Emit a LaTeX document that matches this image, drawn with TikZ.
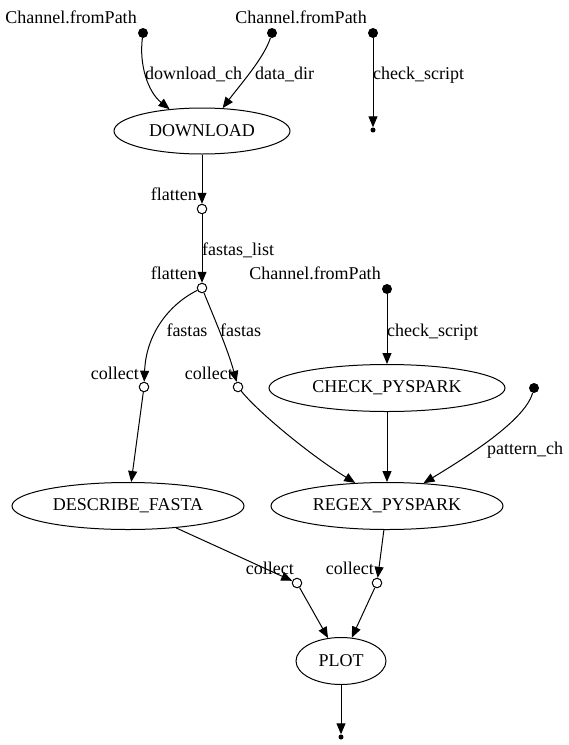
\documentclass[tikz,border=0pt]{standalone}
\usepackage{fontspec}
\setmainfont{Liberation Serif}
\usetikzlibrary{arrows.meta,shapes.geometric}
\begin{document}
\begin{tikzpicture}[x=1pt,y=1pt,
  every node/.style={font=\fontsize{18}{20}\selectfont},
  proc/.style={ellipse,draw,line width=1pt,inner sep=0pt,minimum height=47pt},
  src/.style={circle,fill=black,inner sep=0pt,minimum size=10pt},
  sink/.style={circle,fill=black,inner sep=0pt,minimum size=5pt},
  op/.style={circle,draw,fill=white,line width=1pt,inner sep=0pt,minimum size=9.5pt},
  lbl/.style={inner sep=0pt,text height=12pt,text depth=4pt},
  flow/.style={line width=1pt,-{Triangle[length=11pt,width=9pt]}}
]
\useasboundingbox (0,0) rectangle (569,-745);

% sources and sinks
\node[src] (s1) at (143,-33) {};
\node[src] (s2) at (272,-33) {};
\node[src] (s3) at (373,-33) {};
\node[sink] (e1) at (373,-130) {};
\node[src] (s4) at (387,-289) {};
\node[src] (s5) at (534,-388) {};
\node[sink] (e2) at (341,-737) {};

% processes
\node[proc,minimum width=176pt,minimum height=46pt] (dl) at (202,-131) {DOWNLOAD};
\node[proc,minimum width=236pt] (chk) at (387,-388) {CHECK\_PYSPARK};
\node[proc,minimum width=232pt] (desc) at (128,-506) {DESCRIBE\_FASTA};
\node[proc,minimum width=232pt] (rgx) at (387,-506) {REGEX\_PYSPARK};
\node[proc,minimum width=90pt] (plot) at (341,-661) {PLOT};

% operators
\node[op] (f1) at (202,-209) {};
\node[op] (f2) at (202,-288) {};
\node[op] (c1) at (144,-387) {};
\node[op] (c2) at (238,-387) {};
\node[op] (c3) at (297,-583) {};
\node[op] (c4) at (377,-583) {};

% edges
\draw[flow] (s1) .. controls (139,-65) and (148,-92) .. (dl.146);
\draw[flow] (s2) .. controls (264,-58) and (240,-85) .. (dl.48);
\draw[flow] (s3) -- (e1);
\draw[flow] (dl) -- (f1);
\draw[flow] (f1) -- (f2);
\draw[flow] (f2) .. controls (168,-305) and (146,-335) .. (c1);
\draw[flow] (f2) .. controls (215,-320) and (228,-350) .. (c2);
\draw[flow] (s4) -- (chk);
\draw[flow] (c1) -- (desc);
\draw[flow] (c2) .. controls (258,-412) and (310,-455) .. (rgx.144);
\draw[flow] (chk) -- (rgx);
\draw[flow] (s5) .. controls (525,-420) and (470,-455) .. (rgx.32);
\draw[flow] (desc) -- (c3);
\draw[flow] (rgx) -- (c4);
\draw[flow] (c3) -- (plot);
\draw[flow] (c4) -- (plot);
\draw[flow] (plot) -- (e2);

% labels
\node[lbl] (ls1) at (71,-19) {Channel.fromPath};
\node[lbl] (ls2) at (301,-19) {Channel.fromPath};
\node[lbl] (ls4) at (315,-275) {Channel.fromPath};
\node[lbl,anchor=west] (le1) at (145,-75) {download\_ch};
\node[lbl,anchor=west] (le2) at (255,-75) {data\_dir};
\node[lbl,anchor=west] (le3) at (373,-75) {check\_script};
\node[lbl,anchor=east] (lf1) at (197,-196) {flatten};
\node[lbl,anchor=east] (lf2) at (197,-275) {flatten};
\node[lbl,anchor=west] (le4) at (202,-251) {fastas\_list};
\node[lbl] (le5) at (187,-332) {fastas};
\node[lbl,anchor=west] (le6) at (220,-332) {fastas};
\node[lbl,anchor=west] (le7) at (387,-332) {check\_script};
\node[lbl,anchor=east] (lc1) at (139,-375) {collect};
\node[lbl,anchor=east] (lc2) at (233,-375) {collect};
\node[lbl,anchor=west] (le8) at (487,-450) {pattern\_ch};
\node[lbl,anchor=east] (lc3) at (294,-570) {collect};
\node[lbl,anchor=east] (lc4) at (374,-570) {collect};
\end{tikzpicture}
\end{document}
